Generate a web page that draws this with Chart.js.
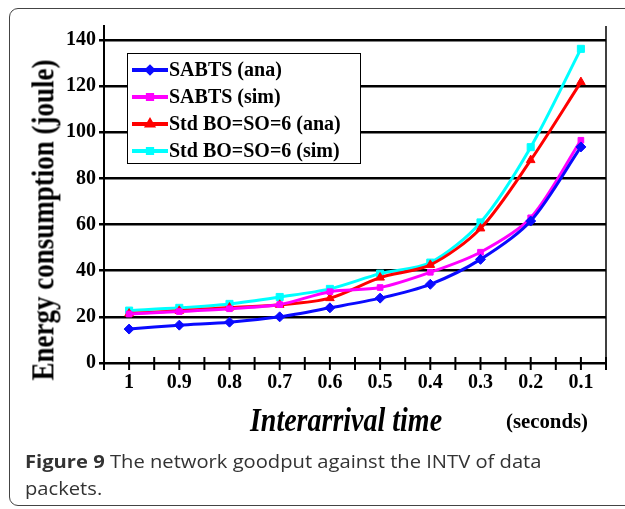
<!DOCTYPE html>
<html>
<head>
<meta charset="utf-8">
<script src="https://cdn.jsdelivr.net/npm/chart.js@4/dist/chart.umd.min.js"></script>
<style>
  html, body { margin: 0; padding: 0; background: #fff; }
  #page { position: relative; width: 625px; height: 509px; overflow: hidden; }
  #frame {
    position: absolute; left: 9px; top: 8px; width: 640px; height: 498px;
    border: 1.5px solid #444; border-radius: 9px; box-sizing: border-box;
  }
  #chartBox { position: absolute; left: 0; top: 0; width: 625px; height: 450px; }
  .serif { font-family: "Liberation Serif", "DejaVu Serif", serif; font-weight: bold; color: #000; position: absolute; white-space: nowrap; }
  #yTitle { font-size: 27px; left: 43px; top: 220px; transform: translate(-50%, -50%) rotate(-90deg) scale(1, 1.2); }
  #xTitle { font-size: 28px; font-style: italic; left: 346px; top: 420px; transform: translate(-50%, -50%) scale(1, 1.22); }
  #unit { font-size: 20px; left: 547px; top: 421px; transform: translate(-50%, -50%) scale(1.04, 1); }
  #caption {
    position: absolute; left: 25px; top: 448px; width: 495px;
    font-family: "Open Sans", "Noto Sans", sans-serif; font-size: 18px; line-height: 27px; color: #333;
    transform: scale(1.12, 1); transform-origin: left top;
  }
</style>
</head>
<body>
<div id="page">
  <div id="frame"></div>
  <div id="chartBox"><canvas id="energy" width="625" height="450"></canvas></div>
  <div id="yTitle" class="serif">Energy consumption (joule)</div>
  <div id="xTitle" class="serif">Interarrival time</div>
  <div id="unit" class="serif">(seconds)</div>
  <div id="caption"><b>Figure 9</b> The network goodput against the INTV of data packets.</div>
</div>
<script>
// interarrival time (s), read left to right
const categories = ['1', '0.9', '0.8', '0.7', '0.6', '0.5', '0.4', '0.3', '0.2', '0.1']
const sabtsAna = [14.7, 16.4, 17.7, 20.0, 23.9, 28.1, 34.1, 44.9, 61.5, 93.6]
const sabtsSim = [21.2, 22.3, 23.5, 25.3, 30.9, 32.7, 39.3, 48.0, 62.9, 96.5]
const stdAna = [21.4, 22.6, 24.0, 25.2, 28.1, 37.0, 42.5, 58.3, 87.9, 121.7]
const stdSim = [22.7, 23.9, 25.6, 28.6, 32.1, 38.7, 43.5, 60.9, 93.5, 136.1]
const yTicks = [0, 20, 40, 60, 80, 100, 120, 140]

const serifBold = { family: '"Liberation Serif", "DejaVu Serif", serif', weight: 'bold', size: 20 }

function series(label, data, color, style, radius) {
  return {
    label: label,
    data: data,
    borderColor: color,
    backgroundColor: color,
    borderWidth: 3,
    tension: 0.3,
    pointStyle: style,
    pointRadius: radius,
    pointBorderWidth: 1
  }
}

// tick marks on the x axis at each category and in between
const xTickMarks = {
  id: 'xTickMarks',
  afterDraw(chart) {
    const ctx = chart.ctx
    const x = chart.scales.x
    const y0 = chart.chartArea.bottom
    ctx.save()
    ctx.strokeStyle = '#000'
    ctx.lineWidth = 2
    for (let i = 0; i <= categories.length * 2; i++) {
      const px = x.getPixelForValue(i / 2 - 0.5)
      ctx.beginPath()
      ctx.moveTo(px, y0 - 6)
      ctx.lineTo(px, y0 + 7)
      ctx.stroke()
    }
    // right border of the plot
    ctx.lineWidth = 1.5
    ctx.beginPath()
    ctx.moveTo(chart.chartArea.right, chart.chartArea.top)
    ctx.lineTo(chart.chartArea.right, y0)
    ctx.stroke()
    ctx.restore()
  }
}

// boxed legend inside the plot
const boxLegend = {
  id: 'boxLegend',
  afterDraw(chart) {
    const ctx = chart.ctx
    const left = 127, top = 53, w = 233, h = 110
    ctx.save()
    ctx.fillStyle = '#fff'
    ctx.fillRect(left, top, w, h)
    ctx.strokeStyle = '#000'
    ctx.lineWidth = 1
    ctx.strokeRect(left + 0.5, top + 0.5, w, h)
    ctx.font = 'bold 20px "Liberation Serif", serif'
    ctx.textBaseline = 'middle'
    chart.data.datasets.forEach((ds, i) => {
      const y = top + 17 + i * 27
      ctx.strokeStyle = ds.borderColor
      ctx.lineWidth = 4
      ctx.beginPath()
      ctx.moveTo(left + 5, y)
      ctx.lineTo(left + 41, y)
      ctx.stroke()
      Chart.helpers.drawPoint(ctx, { pointStyle: ds.pointStyle, radius: 3, rotation: 0, borderWidth: 1 }, left + 23, y)
      ctx.fillStyle = ds.borderColor
      ctx.fill()
      ctx.fillStyle = '#000'
      ctx.fillText(ds.label, left + 42, y + 1)
    })
    ctx.restore()
  }
}

const chart = new Chart(document.getElementById('energy').getContext('2d'), {
  type: 'line',
  data: {
    labels: categories,
    datasets: [
      series('SABTS (ana)', sabtsAna, '#0a0aff', 'rectRot', 5),
      series('SABTS (sim)', sabtsSim, '#ff00ff', 'rect', 4),
      series('Std BO=SO=6 (ana)', stdAna, '#ff0000', 'triangle', 5),
      series('Std BO=SO=6 (sim)', stdSim, '#00ffff', 'rect', 5)
    ]
  },
  options: {
    responsive: false,
    animation: false,
    devicePixelRatio: 1,
    layout: { padding: { top: 26, right: 19, left: 0, bottom: 0 } },
    plugins: { legend: { display: false }, tooltip: { enabled: false } },
    scales: {
      x: {
        offset: true,
        grid: { display: false, drawTicks: false },
        border: { display: true, color: '#000', width: 2 },
        ticks: { color: '#000', font: serifBold, padding: 8, maxRotation: 0, autoSkip: false },
        afterFit(scale) { scale.height = 87 }
      },
      y: {
        min: 0,
        max: 146,
        afterBuildTicks(scale) { scale.ticks = yTicks.map(v => ({ value: v })) },
        grid: { color: '#000', lineWidth: 2.5, tickLength: 5 },
        border: { display: true, color: '#000', width: 2 },
        ticks: { color: '#000', font: serifBold, padding: 3 },
        afterFit(scale) { scale.width = 104 }
      }
    }
  },
  plugins: [xTickMarks, boxLegend]
})
</script>
</body>
</html>
